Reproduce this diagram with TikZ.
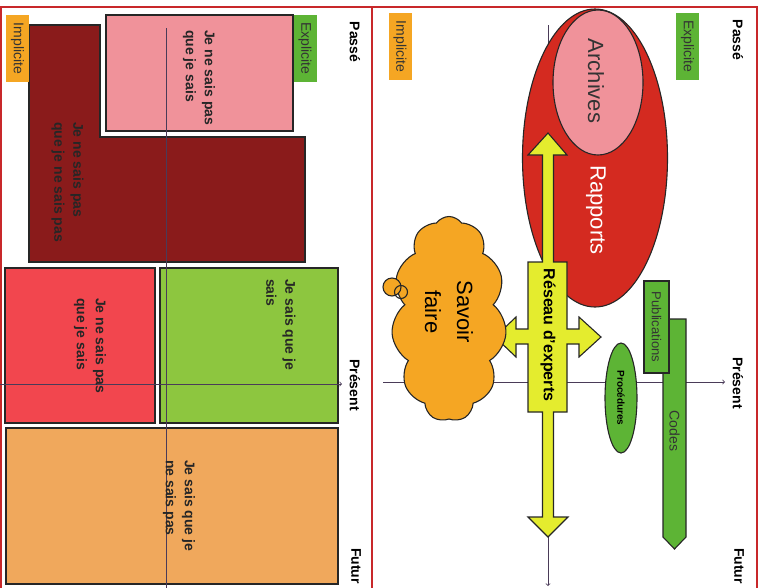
\documentclass[tikz,border=0pt]{standalone}
\usepackage{fontspec}
\setmainfont{Liberation Sans}
\usetikzlibrary{shapes.geometric,shapes.symbols}

\definecolor{cadre}{HTML}{C8282A}
\definecolor{rouge}{HTML}{D42A20}
\definecolor{rose}{HTML}{F0929A}
\definecolor{jaune}{HTML}{E4EC2E}
\definecolor{orangefonce}{HTML}{F5A623}
\definecolor{vert}{HTML}{5DB435}
\definecolor{vertclair}{HTML}{8DC63F}
\definecolor{bordeaux}{HTML}{8A1B1B}
\definecolor{rougevif}{HTML}{F2464E}
\definecolor{orangeclair}{HTML}{F0A85C}
\definecolor{axe}{HTML}{4A3B58}

\begin{document}
\begin{tikzpicture}[x=1pt,y=-1pt,
    trait/.style={draw=black!85,line width=1.1pt},
    vertical/.style={rotate=-90,inner sep=0pt},
    temps/.style={vertical,font=\bfseries\fontsize{14}{16}\selectfont},
    etiquette/.style={vertical,minimum width=67pt,minimum height=23pt,text=black!80,font=\fontsize{14}{16}\selectfont},
    case/.style={vertical,anchor=west,align=left,text=black!85,font=\bfseries\fontsize{14}{19}\selectfont},
    axe/.style={draw=axe,line width=0.8pt}]
    \useasboundingbox (0,0) rectangle (761,587);

    % Cadre
    \draw[cadre,line width=1.2pt] (1,600) |- (757,7) -- (757,600);
    \draw[cadre,line width=1.2pt] (372,7) -- (372,600);

    % Panneau de droite : axes
    \coordinate (hautD) at (548,25);
    \coordinate (basD) at (548,586);
    \coordinate (gaucheD) at (383,382);
    \coordinate (droiteD) at (725,382);
    \draw[axe,->] (hautD) -- (basD);
    \draw[axe,->] (gaucheD) -- (droiteD);

    \node[trait,ellipse,fill=rouge,minimum width=145pt,minimum height=298pt] (rapports) at (595,158) {};
    \node[trait,ellipse,fill=rose,minimum width=90pt,minimum height=145pt] (archives) at (598,82.5) {};
    \node[vertical,text=black!80,font=\fontsize{22}{26}\selectfont] (txtarchives) at (596,81) {Archives};
    \node[vertical,text=white,font=\fontsize{22}{26}\selectfont] (txtrapports) at (596,210) {Rapports};

    % Réseau d'experts
    \draw[trait,fill=jaune] (548,133) -- (567,155) -- (553.5,155) -- (553.5,262) -- (567,262) -- (567,329)
        -- (579,329) -- (579,317) -- (601,337) -- (579,357) -- (579,344) -- (567,344) -- (567,412)
        -- (553.5,412) -- (553.5,517) -- (568,517) -- (548,537) -- (528,517) -- (542.5,517) -- (542.5,412)
        -- (528,412) -- (528,344) -- (516,344) -- (516,357) -- (495,337) -- (516,317) -- (516,329)
        -- (528,329) -- (528,262) -- (542.5,262) -- (542.5,155) -- (528,155) -- cycle;
    \node[vertical,font=\bfseries\fontsize{16}{18}\selectfont] (reseau) at (548,335) {Réseau d'experts};

    % Savoir faire
    \node[trait,cloud,cloud puffs=11,cloud puff arc=110,aspect=0.56,fill=orangefonce,minimum width=115pt,minimum height=205pt] (nuage) at (449,319) {};
    \draw[trait,fill=orangefonce] (392,287) circle[radius=9];
    \draw[trait] (401,292) circle[radius=6.5];
    \node[vertical,align=center,font=\fontsize{22}{32}\selectfont] (savoir) at (449,312) {Savoir\\faire};

    % Codes, publications, procédures
    \draw[trait,fill=vert] (663,319) -- (686,319) -- (686,537) -- (674.5,549) -- (663,537) -- cycle;
    \node[vertical,text=black!80,font=\fontsize{14}{16}\selectfont] (codes) at (674.5,431) {Codes};
    \draw[trait,fill=vert] (644,281) rectangle (669,373);
    \node[vertical,text=black!80,font=\fontsize{13}{15}\selectfont] (publi) at (656.5,327) {Publications};
    \node[trait,ellipse,fill=vert,minimum width=32pt,minimum height=110pt] (proc) at (621,398) {};
    \node[vertical,font=\bfseries\fontsize{10}{12}\selectfont] (txtproc) at (621,398) {Procédures};

    \node[etiquette,fill=vert] (explD) at (687.5,46.5) {Explicite};
    \node[etiquette,fill=orangefonce] (implD) at (400,46.5) {Implicite};
    \node[temps] (passeD) at (738,40) {Passé};
    \node[temps] (presentD) at (738,383) {Présent};
    \node[temps] (futurD) at (739,566) {Futur};

    % Panneau de gauche : cases
    \draw[trait,fill=rose] (106,15) rectangle (293,131);
    \draw[trait,fill=bordeaux] (29,25) -- (100,25) -- (100,137) -- (305,137) -- (305,262) -- (29,262) -- cycle;
    \draw[trait,fill=rougevif] (5,268) rectangle (155,423);
    \draw[trait,fill=vertclair] (160,268) rectangle (338,423);
    \draw[trait,fill=orangeclair] (6,428) rectangle (338,584);

    \coordinate (hautG) at (166,28);
    \coordinate (basG) at (166,592);
    \coordinate (gaucheG) at (0,384);
    \coordinate (droiteG) at (342,384);
    \draw[axe] (hautG) -- (basG);
    \draw[axe,->] (gaucheG) -- (droiteG);

    \node[case] (nsqs1) at (199,30) {Je ne sais pas\\que je sais}; % Passé explicite
    \node[case] (nsqns) at (67.5,122) {Je ne sais pas\\que je ne sais pas}; % Passé implicite
    \node[case] (nsqs2) at (90,298) {Je ne sais pas\\que je sais}; % Présent implicite
    \node[case] (sqs) at (281,279) {Je sais que je\\sais}; % Présent explicite
    \node[case] (sqns) at (179,460) {Je sais que je\\ne sais pas}; % Futur

    \node[etiquette,fill=vert] (explG) at (305,48.5) {Explicite};
    \node[etiquette,fill=orangefonce] (implG) at (17.5,48.5) {Implicite};
    \node[temps] (passeG) at (355,42) {Passé};
    \node[temps] (presentG) at (355,385) {Présent};
    \node[temps] (futurG) at (356,566) {Futur};
\end{tikzpicture}
\end{document}
